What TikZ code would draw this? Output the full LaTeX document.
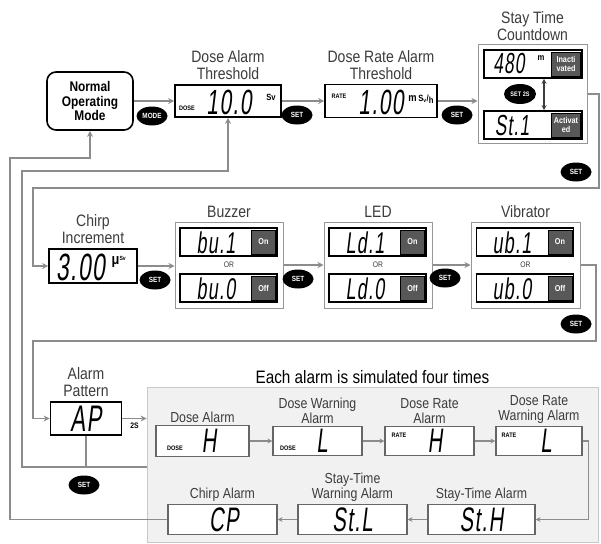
\documentclass[tikz,border=0pt]{standalone}
\usepackage{fontspec}
\setmainfont{Liberation Sans}[FakeStretch=0.85]
\newfontfamily\segfont{Liberation Sans}[FakeStretch=0.6, FakeSlant=0.12, LetterSpace=4]
\usepackage{tikz}
\usetikzlibrary{shapes.geometric, arrows.meta, positioning}
\definecolor{mywire}{RGB}{140,140,140}
\definecolor{mytag}{RGB}{88,88,88}
\definecolor{myframe}{RGB}{150,150,150}
\definecolor{mypanel}{RGB}{241,241,241}
\definecolor{mypanelframe}{RGB}{200,200,200}
\definecolor{mylabel}{RGB}{60,60,60}
\tikzset{
  lcd/.style={rectangle, draw=black, fill=white, line width=1.6pt, inner sep=0pt},
  simlcd/.style={rectangle, draw=black!60, fill=white, line width=1.2pt, inner sep=0pt},
  grpbox/.style={rectangle, draw=myframe, fill=white, line width=1pt, inner sep=0pt},
  panel/.style={rectangle, draw=mypanelframe, fill=mypanel, line width=0.8pt, inner sep=0pt},
  tagbox/.style={rectangle, draw=black, fill=mytag, line width=0.6pt, text=white,
    align=center, inner sep=0pt, font=\fontsize{8.5}{9}\selectfont\bfseries},
  btn/.style={ellipse, fill=black, text=white, inner sep=0pt, minimum width=31pt,
    minimum height=19pt, font=\fontsize{7.5}{8}\selectfont\bfseries},
  lbl/.style={align=center, text=mylabel, inner sep=1pt, font=\fontsize{16.5}{17}\selectfont},
  simlbl/.style={align=center, text=mylabel, inner sep=1pt, font=\fontsize{14.5}{15}\selectfont},
  seg/.style={inner sep=0pt, font=\segfont\fontsize{#1}{#1}\selectfont},
  seg/.default=34,
  smalltxt/.style={inner sep=0pt, font=\fontsize{6.5}{7}\selectfont\bfseries},
  unittxt/.style={inner sep=0pt, font=\fontsize{9}{9}\selectfont\bfseries},
  ortxt/.style={inner sep=0pt, text=mylabel, font=\fontsize{8}{8}\selectfont},
  arrow/.style={-{Stealth[length=6pt, width=6pt]}, line width=1.6pt, draw=mywire},
  simarrow/.style={-{Stealth[length=5pt, width=5pt]}, line width=1.3pt, draw=mywire},
  dblarrow/.style={{Stealth[length=5pt, width=5pt]}-{Stealth[length=5pt, width=5pt]},
    line width=1.2pt, draw=mylabel},
  line/.style={line width=1.6pt, draw=mywire}
}

\begin{document}
\begin{tikzpicture}[x=1pt, y=-1pt]
  \useasboundingbox (0,0) rectangle (601,543);

  % Normal operating mode
  \node[draw=black, line width=1.6pt, rounded corners=9pt, minimum width=86pt, minimum height=58pt,
    align=center, font=\fontsize{14}{14.5}\selectfont\bfseries] (nom) at (90,101) {Normal\\Operating\\Mode};

  % Dose alarm threshold
  \node[lcd, minimum width=106pt, minimum height=32pt] (dose) at (228,101) {};
  \node[lbl, above=3pt of dose] (doselbl) {Dose Alarm\\Threshold};
  \node[smalltxt] (dosetag) at (187,108) {DOSE};
  \node[seg=35] (doseval) at (229,102) {10.0};
  \node[unittxt] (doseunit) at (271,97) {Sv};

  % Dose rate alarm threshold
  \node[lcd, minimum width=112pt, minimum height=33pt] (rate) at (381,101) {};
  \node[lbl, above=3pt of rate] (ratelbl) {Dose Rate Alarm\\Threshold};
  \node[smalltxt] (ratetag) at (339,96) {RATE};
  \node[seg=35] (rateval) at (381,102) {1.00};
  \node[unittxt] (rateunit) at (421,99) {{\fontsize{11}{11}\selectfont m}\,S\textsubscript{v}/\raisebox{-2pt}{h}};

  % Stay time countdown
  \node[grpbox, minimum width=109pt, minimum height=98pt] (stay) at (532.5,94) {};
  \node[lbl, above=3pt of stay] (staylbl) {Stay Time\\Countdown};
  \node[lcd, minimum width=98pt, minimum height=28pt] (sttop) at (533,64) {};
  \node[seg=29] (sttopval) at (509,64) {480};
  \node[unittxt] (sttopunit) at (541,58) {m};
  \node[tagbox, minimum width=29pt, minimum height=24pt, anchor=east] (sttoptag) at ([xshift=-2pt]sttop.east) {Inacti\\vated};
  \node[lcd, minimum width=98pt, minimum height=28pt] (stbot) at (533,125) {};
  \node[seg=29] (stbotval) at (512,126) {St.1};
  \node[tagbox, minimum width=29pt, minimum height=24pt, anchor=east] (stbottag) at ([xshift=-2pt]stbot.east) {Activat\\ed};
  \node[btn, minimum width=32pt, minimum height=20pt, font=\fontsize{6.5}{7}\selectfont\bfseries] (set2s) at (520,94) {SET 2S};
  \draw[dblarrow] ([xshift=11pt]sttop.south) -- ([xshift=11pt]stbot.north);

  % Buttons of the top row
  \node[btn] (modebtn) at (152,116) {MODE};
  \node[btn] (setA) at (297,115) {SET};
  \node[btn] (setB) at (457,115) {SET};
  \node[btn] (setC) at (576,172) {SET};

  % Chirp increment
  \node[lcd, minimum width=88pt, minimum height=34pt] (chirp) at (93,266) {};
  \node[lbl, above=3pt of chirp] (chirplbl) {Chirp\\Increment};
  \node[seg=38] (chirpval) at (81,267) {3.00};
  \node[unittxt] (chirpunit) at (119,262) {{\fontsize{15}{15}\selectfont μ}\textsuperscript{Sv}};

  % Buzzer
  \node[grpbox, minimum width=108pt, minimum height=86pt] (buz) at (229,265) {};
  \node[lbl, above=3pt of buz] (buzlbl) {Buzzer};
  \node[lcd, minimum width=97pt, minimum height=28pt] (buzon) at (228.5,242) {};
  \node[seg=30] (buzonval) at (216,243) {bu.1};
  \node[tagbox, minimum width=24pt, minimum height=24pt, anchor=east] (buzontag) at ([xshift=-2pt]buzon.east) {On};
  \node[ortxt] (buzor) at (229,265) {OR};
  \node[lcd, minimum width=97pt, minimum height=28pt] (buzoff) at (228.5,288) {};
  \node[seg=30] (buzoffval) at (216,289) {bu.0};
  \node[tagbox, minimum width=24pt, minimum height=24pt, anchor=east] (buzofftag) at ([xshift=-2pt]buzoff.east) {Off};

  % LED
  \node[grpbox, minimum width=108pt, minimum height=86pt] (led) at (378,265) {};
  \node[lbl, above=3pt of led] (ledlbl) {LED};
  \node[lcd, minimum width=97pt, minimum height=28pt] (ledon) at (377.5,242) {};
  \node[seg=30] (ledonval) at (365,243) {Ld.1};
  \node[tagbox, minimum width=24pt, minimum height=24pt, anchor=east] (ledontag) at ([xshift=-2pt]ledon.east) {On};
  \node[ortxt] (ledor) at (378,265) {OR};
  \node[lcd, minimum width=97pt, minimum height=28pt] (ledoff) at (377.5,288) {};
  \node[seg=30] (ledoffval) at (365,289) {Ld.0};
  \node[tagbox, minimum width=24pt, minimum height=24pt, anchor=east] (ledofftag) at ([xshift=-2pt]ledoff.east) {Off};

  % Vibrator
  \node[grpbox, minimum width=109pt, minimum height=86pt] (vib) at (525.5,265) {};
  \node[lbl, above=3pt of vib] (viblbl) {Vibrator};
  \node[lcd, minimum width=97pt, minimum height=28pt] (vibon) at (525,242) {};
  \node[seg=30] (vibonval) at (512,243) {ub.1};
  \node[tagbox, minimum width=24pt, minimum height=24pt, anchor=east] (vibontag) at ([xshift=-2pt]vibon.east) {On};
  \node[ortxt] (vibor) at (525.5,265) {OR};
  \node[lcd, minimum width=97pt, minimum height=28pt] (viboff) at (525,288) {};
  \node[seg=30] (viboffval) at (512,289) {ub.0};
  \node[tagbox, minimum width=24pt, minimum height=24pt, anchor=east] (vibofftag) at ([xshift=-2pt]viboff.east) {Off};

  % Buttons of the middle row
  \node[btn] (setD) at (155,280) {SET};
  \node[btn] (setE) at (298,279) {SET};
  \node[btn] (setF) at (445,278) {SET};
  \node[btn] (setG) at (576,324) {SET};

  % Alarm pattern and simulation panel
  \node[panel, minimum width=451pt, minimum height=155pt] (sim) at (372.5,464.5) {};
  \node[inner sep=1pt, font=\fontsize{18}{18}\selectfont, above=2pt of sim] (simlbl) {Each alarm is simulated four times};
  \node[lcd, minimum width=71pt, minimum height=33pt] (ap) at (86,418.5) {};
  \node[lbl, above=3pt of ap] (aplbl) {Alarm\\Pattern};
  \node[seg=37] (apval) at (86,419) {AP};
  \coordinate (apjoin) at (86,467);
  \node[btn] (setH) at (84,485) {SET};

  % Simulated alarms
  \node[simlcd, minimum width=93pt, minimum height=31pt] (da) at (202.5,441) {};
  \node[simlbl, above=1pt of da] (dalbl) {Dose Alarm};
  \node[smalltxt] (datag) at (175,448) {DOSE};
  \node[seg=34] (daval) at (209,441) {H};
  \node[simlcd, minimum width=89pt, minimum height=29pt] (dw) at (317.5,441) {};
  \node[simlbl, above=1pt of dw] (dwlbl) {Dose Warning\\Alarm};
  \node[smalltxt] (dwtag) at (288,448) {DOSE};
  \node[seg=34] (dwval) at (322,441) {L};
  \node[simlcd, minimum width=89pt, minimum height=29pt] (ra) at (429.5,441) {};
  \node[simlbl, above=1pt of ra] (ralbl) {Dose Rate\\Alarm};
  \node[smalltxt] (ratag) at (399,435) {RATE};
  \node[seg=34] (raval) at (435,441) {H};
  \node[simlcd, minimum width=86pt, minimum height=29pt] (rw) at (539,441) {};
  \node[simlbl, above=1pt of rw] (rwlbl) {Dose Rate\\Warning Alarm};
  \node[smalltxt] (rwtag) at (509,435) {RATE};
  \node[seg=34] (rwval) at (546,441) {L};
  \node[simlcd, minimum width=107pt, minimum height=30pt] (sh) at (481.5,519.5) {};
  \node[simlbl, above=1pt of sh] (shlbl) {Stay-Time Alarm};
  \node[seg=34] (shval) at (481.5,520) {St.H};
  \node[simlcd, minimum width=109pt, minimum height=30pt] (sl) at (352.5,519.5) {};
  \node[simlbl, above=1pt of sl] (sllbl) {Stay-Time\\Warning Alarm};
  \node[seg=34] (slval) at (352.5,520) {St.L};
  \node[simlcd, minimum width=109pt, minimum height=30pt] (cp) at (222.5,519.5) {};
  \node[simlbl, above=1pt of cp] (cplbl) {Chirp Alarm};
  \node[seg=34] (cpval) at (224,520) {CP};

  % Connectors, top row
  \draw[arrow] (nom) -- (dose);
  \draw[arrow] (dose) -- (rate);
  \draw[arrow] (rate.east) -- (rate.east -| stay.west);
  \draw[arrow] (stay.east) -| (599,188) -- (33,188) |- (chirp.west);

  % Connectors, middle row
  \draw[arrow] (chirp.east) -- (chirp.east -| buz.west);
  \draw[arrow] (buz) -- (led);
  \draw[arrow] (led) -- (vib);
  \draw[arrow] (vib.east) -| (596,341) -- (33,341) |- (ap.west);

  % Connectors, alarm pattern
  \draw[arrow] (ap.east) -- (ap.east -| sim.west) node[midway, below=4pt, smalltxt, font=\fontsize{8}{8}\selectfont\bfseries] (ap2s) {2S};
  \draw[line] (ap.south) -- (apjoin);
  \draw[arrow] (sim.west |- apjoin) -| (22,171) -| (dose.south);
  \draw[arrow] (cp.west) -| (10,158) -| (nom.south);

  % Connectors inside the panel
  \draw[simarrow] (da) -- (dw);
  \draw[simarrow] (dw) -- (ra);
  \draw[simarrow] (ra) -- (rw);
  \draw[simarrow] (rw.east) -- ++(6,0) |- (sh.east);
  \draw[simarrow] (sh) -- (sl);
  \draw[simarrow] (sl) -- (cp);
\end{tikzpicture}
\end{document}
